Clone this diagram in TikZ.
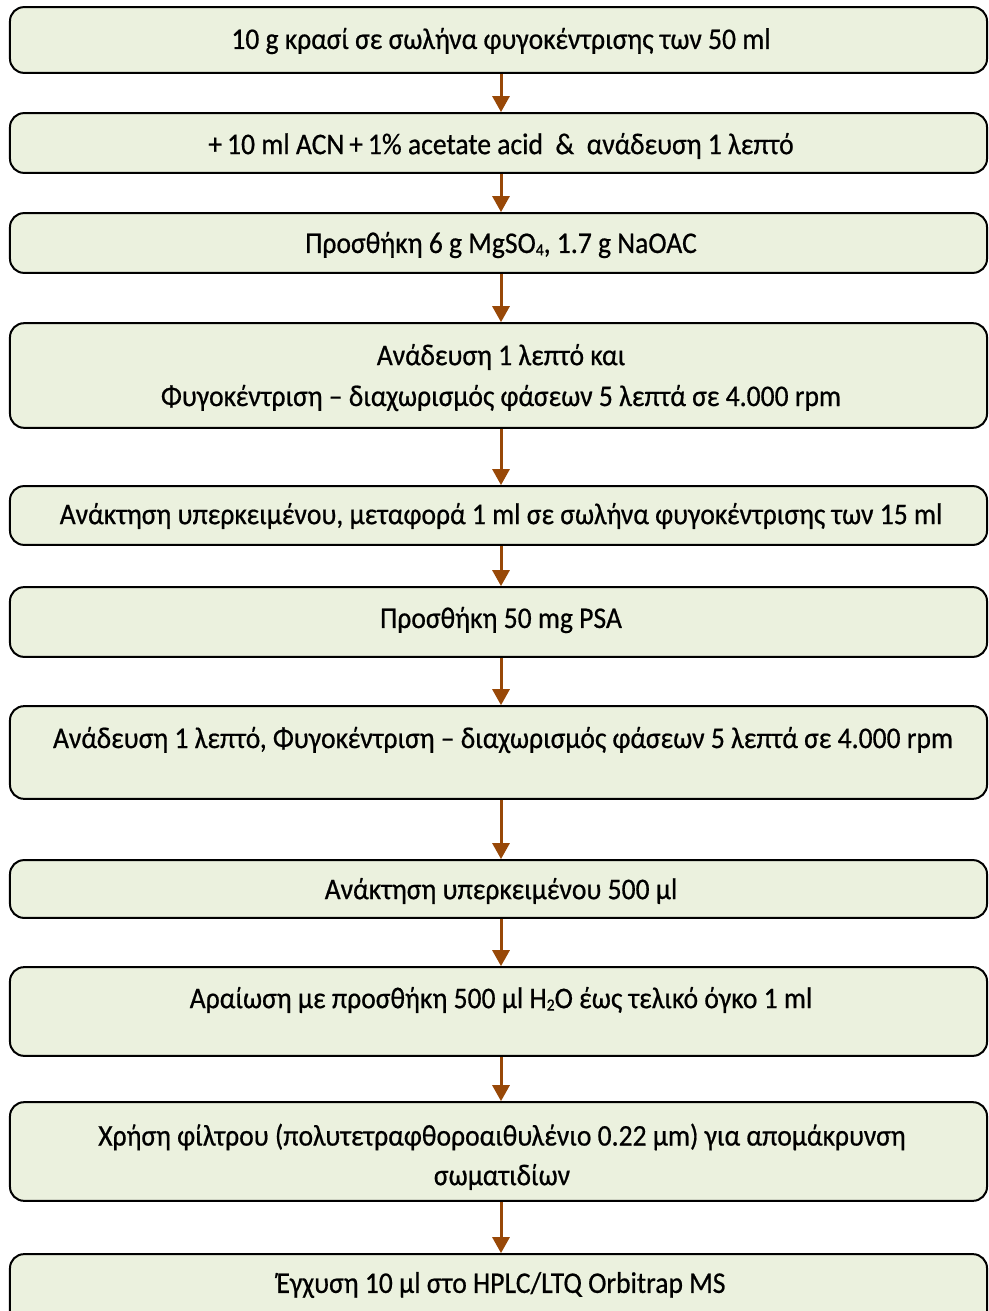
\documentclass[tikz,border=0pt]{standalone}
\usepackage{fontspec}
\setmainfont[FakeStretch=0.92,FakeBold=0.6]{Carlito}
\usetikzlibrary{arrows.meta}
\definecolor{boxfill}{HTML}{EBF1DE}
\definecolor{arrowc}{HTML}{984807}
\tikzset{
  stepbox/.style={draw=black, line width=2bp, fill=boxfill, rounded corners=14bp, inner sep=0pt, minimum width=977bp},
  steptext/.style={inner sep=0pt, font=\fontsize{30bp}{40bp}\selectfont, align=center},
  flow/.style={draw=arrowc, line width=3bp, -{Triangle[length=16bp,width=17bp]}}
}
\newcommand{\mysub}[1]{\raisebox{-0.08em}{\fontsize{17bp}{17bp}\selectfont #1}}
\newcommand{\mybox}[4]{% name, top, bottom
  \node[stepbox, minimum height={#3-#2}] (#1) at (498.5,{(#2+#3)/2}) {};}
\begin{document}
\begin{tikzpicture}[x=1bp,y=-1bp]
\useasboundingbox (0,0) rectangle (988,1311);
\clip (0,0) rectangle (988,1311);
\mybox{b1}{7}{73}{}
\mybox{b2}{113}{173}{}
\mybox{b3}{213}{273}{}
\mybox{b4}{323}{428}{}
\mybox{b5}{486}{545}{}
\mybox{b6}{587}{657}{}
\mybox{b7}{706}{799}{}
\mybox{b8}{860}{918}{}
\mybox{b9}{967}{1056}{}
\mybox{b10}{1102}{1201}{}
\mybox{b11}{1254}{1330}{}
\node[steptext] (t1) at (501,41) {10 g κρασί σε σωλήνα φυγοκέντρισης των 50 ml};
\node[steptext] (t2) at (501,146) {+\,10 ml ACN\,+\,1\% acetate acid \ \& \ ανάδευση 1 λεπτό};
\node[steptext] (t3) at (501,245) {Προσθήκη 6 g MgSO\mysub{4}, 1.7 g NaOAC};
\node[steptext] (t4a) at (501,357) {Ανάδευση 1 λεπτό και};
\node[steptext] (t4b) at (501,398) {Φυγοκέντριση – διαχωρισμός φάσεων 5 λεπτά σε 4.000 rpm};
\node[steptext] (t5) at (501,516) {Ανάκτηση υπερκειμένου, μεταφορά 1 ml σε σωλήνα φυγοκέντρισης των 15 ml};
\node[steptext] (t6) at (501,620) {Προσθήκη 50 mg PSA};
\node[steptext] (t7) at (503,740) {Ανάδευση 1 λεπτό, Φυγοκέντριση – διαχωρισμός φάσεων 5 λεπτά σε 4.000 rpm};
\node[steptext] (t8) at (501,891) {Ανάκτηση υπερκειμένου 500 μl};
\node[steptext] (t9) at (501,1000) {Αραίωση με προσθήκη 500 μl H\mysub{2}O έως τελικό όγκο 1 ml};
\node[steptext] (t10a) at (502,1137) {Χρήση φίλτρου (πολυτετραφθοροαιθυλένιο 0.22 μm) για απομάκρυνση};
\node[steptext] (t10b) at (502,1177) {σωματιδίων};
\node[steptext] (t11) at (501,1285) {Έγχυση 10 μl στο HPLC/LTQ Orbitrap MS};
\foreach \a/\b in {b1/b2,b2/b3,b3/b4,b4/b5,b5/b6,b6/b7,b7/b8,b8/b9,b9/b10,b10/b11}{
  \draw[flow] ([xshift=2.5bp]\a.south) -- ([xshift=2.5bp]\b.north);
}
\end{tikzpicture}
\end{document}
